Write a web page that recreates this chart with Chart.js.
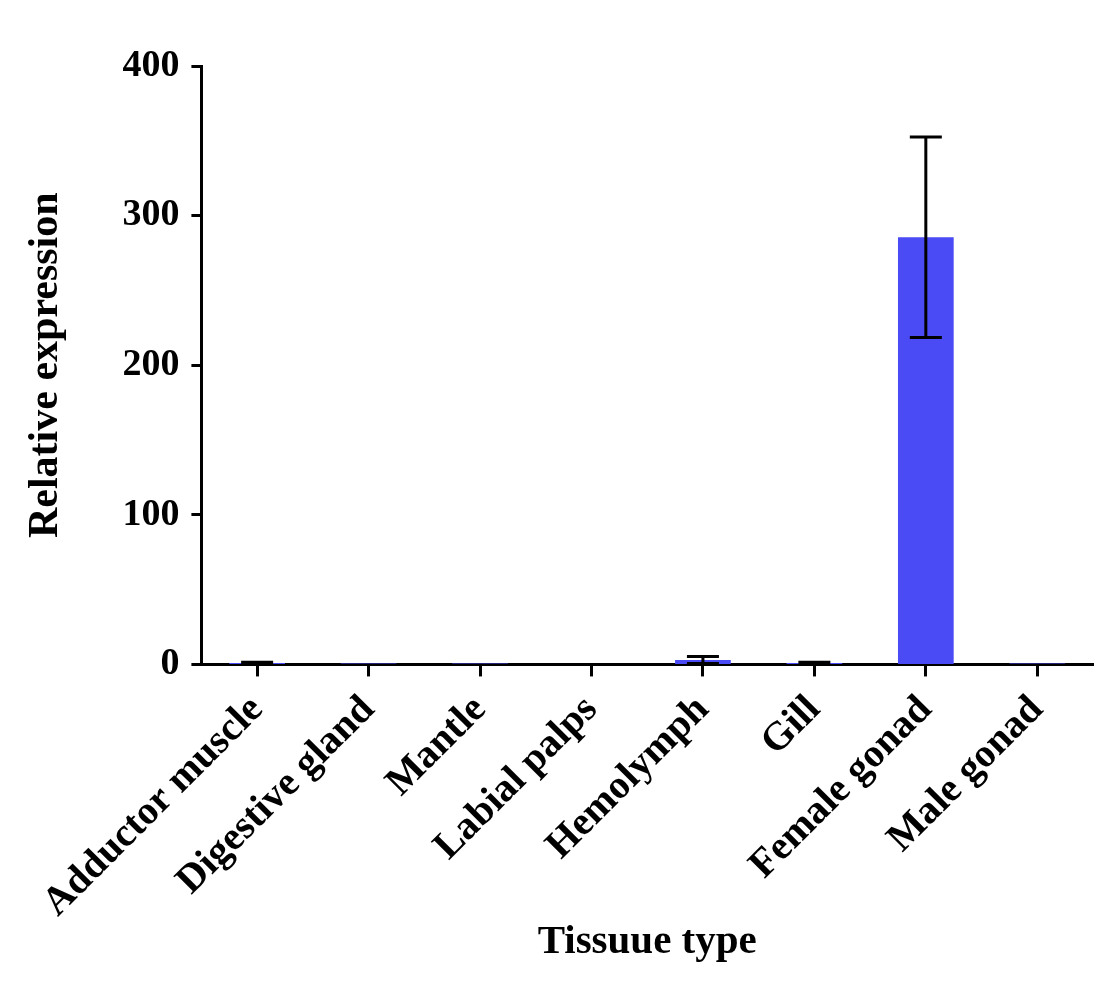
<!DOCTYPE html>
<html>
<head>
<meta charset="utf-8">
<script src="https://cdn.jsdelivr.net/npm/chart.js@4/dist/chart.umd.min.js"></script>
<style>
  html, body { margin: 0; padding: 0; background: #fff; }
  #wrap { width: 1097px; height: 985px; }
</style>
</head>
<body>
<div id="wrap"><canvas id="chart-area"></canvas></div>
<script>
var tissues = ["Adductor muscle", "Digestive gland", "Mantle", "Labial palps", "Hemolymph", "Gill", "Female gonad", "Male gonad"];
var expression = [1, 0.6, 0.6, 0.3, 3, 1, 285.6, 0.6];
var errors = [0.4, 0, 0, 0, 2.3, 0.4, 67, 0];
var yTicks = [0, 100, 200, 300, 400];

var serif = "'Liberation Serif', 'Times New Roman', serif";

var errorBars = {
    id: 'errorBars',
    afterDatasetsDraw: function(chart) {
        var ctx = chart.ctx;
        var y = chart.scales.y;
        var meta = chart.getDatasetMeta(0);
        ctx.save();
        ctx.strokeStyle = '#000';
        ctx.lineWidth = 3;
        meta.data.forEach(function(bar, i) {
            var e = errors[i];
            if (!e) return;
            var top = y.getPixelForValue(expression[i] + e);
            var bot = y.getPixelForValue(Math.max(expression[i] - e, 0));
            var half = 16;
            ctx.beginPath();
            ctx.moveTo(bar.x, top); ctx.lineTo(bar.x, bot);
            ctx.moveTo(bar.x - half, top); ctx.lineTo(bar.x + half, top);
            ctx.moveTo(bar.x - half, bot); ctx.lineTo(bar.x + half, bot);
            ctx.stroke();
        });
        ctx.restore();
    }
};

var config = {
    type: 'bar',
    data: {
        labels: tissues,
        datasets: [{
            data: expression,
            backgroundColor: '#4B4BF5',
            borderWidth: 0,
            barPercentage: 0.5,
            categoryPercentage: 1.0
        }]
    },
    options: {
        responsive: false,
        animation: false,
        layout: { padding: { top: 66, right: 4, left: 17, bottom: 22 } },
        plugins: { legend: { display: false }, tooltip: { enabled: false } },
        scales: {
            x: {
                offset: true,
                border: { display: true, color: '#000', width: 3 },
                grid: { display: true, offset: false, drawOnChartArea: false, drawTicks: true, tickLength: 12, tickWidth: 3, tickColor: '#000' },
                ticks: {
                    color: '#000', minRotation: 45, maxRotation: 45, autoSkip: false, padding: 10,
                    font: { family: serif, size: 40, weight: 'bold' }
                },
                title: {
                    display: true, text: 'Tissuue type', color: '#000', padding: { top: -15, bottom: 0 },
                    font: { family: serif, size: 41, weight: 'bold', lineHeight: 1.0 }
                }
            },
            y: {
                min: 0, max: 400,
                afterBuildTicks: function(axis) {
                    axis.ticks = yTicks.map(function(v) { return { value: v }; });
                },
                border: { display: true, color: '#000', width: 3 },
                grid: { display: true, drawOnChartArea: false, drawTicks: true, tickLength: 10, tickWidth: 3, tickColor: '#000' },
                ticks: {
                    color: '#000', padding: 12,
                    font: { family: serif, size: 38, weight: 'bold' }
                },
                title: {
                    display: true, text: 'Relative expression', color: '#000', padding: { bottom: 39 },
                    font: { family: serif, size: 42, weight: 'bold' }
                }
            }
        }
    },
    plugins: [errorBars]
};

window.onload = function() {
    var canvas = document.getElementById("chart-area");
    canvas.width = 1097;
    canvas.height = 985;
    var ctx = canvas.getContext("2d");
    window.myBar = new Chart(ctx, config);
};
</script>
</body>
</html>
